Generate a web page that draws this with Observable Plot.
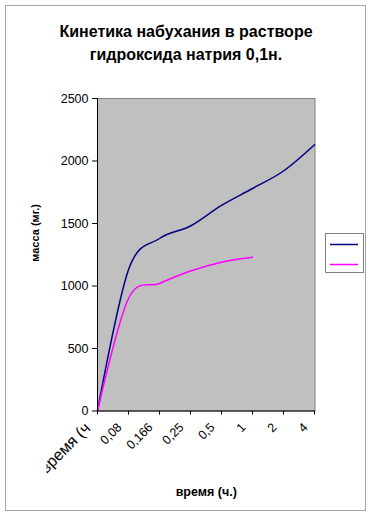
<!DOCTYPE html>
<html>
<head>
<meta charset="utf-8">
<script src="https://cdn.jsdelivr.net/npm/d3@7"></script>
<script src="https://cdn.jsdelivr.net/npm/@observablehq/plot@0.6"></script>
<style>
  html, body { margin: 0; padding: 0; background: #fff; }
  #wrap { position: relative; width: 374px; height: 518px; overflow: hidden; font-family: "Liberation Sans", Arial, sans-serif; }
  #border { position: absolute; left: 5px; top: 5px; width: 361px; height: 506px; border: 1px solid #a6a6a6; box-sizing: border-box; }
  #title { position: absolute; left: 0; top: 20px; width: 372px; text-align: center; font-weight: bold; font-size: 16px; line-height: 23px; color: #000; }
  #chart { position: absolute; left: 0; top: 0; }
  #legend { position: absolute; left: 325px; top: 233px; width: 39px; height: 40px; border: 1px solid #808080; box-sizing: border-box; background: #fff; }
</style>
</head>
<body>
<div id="wrap">
  <div id="border"></div>
  <div id="title">Кинетика набухания в растворе<br>гидроксида натрия 0,1н.</div>
  <div id="chart"></div>
  <div id="legend"></div>
</div>
<script>
const categories = ["время (ч", "0,08", "0,166", "0,25", "0,5", "1", "2", "4"];
const seriesNames = ["Ряд1", "Ряд2"];
const seriesA = [0, 1130, 1380, 1480, 1645, 1780, 1920, 2130];
const seriesB = [0, 900, 1020, 1120, 1190, 1230];
const yTicks = [0, 500, 1000, 1500, 2000, 2500];
const colors = ["#000080", "#ff00ff"];

const data = [];
seriesA.forEach((v, i) => data.push({cat: categories[i], v, s: seriesNames[0]}));
seriesB.forEach((v, i) => data.push({cat: categories[i], v, s: seriesNames[1]}));

const chart = Plot.plot({
  width: 374,
  height: 518,
  marginLeft: 97,
  marginRight: 59.5,
  marginTop: 98,
  marginBottom: 107.5,
  style: {background: "transparent", fontFamily: "'Liberation Sans', Arial, sans-serif", fontSize: "12.5px", color: "#000"},
  x: {type: "point", domain: categories, padding: 0, axis: null},
  y: {domain: [0, 2500], axis: null},
  color: {domain: seriesNames, range: colors},
  marks: [
    Plot.frame({fill: "#c0c0c0", stroke: "#808080"}),
    Plot.line(data, {x: "cat", y: "v", z: "s", stroke: "s", curve: "cardinal", tension: 0, strokeWidth: 1.5}),
    Plot.ruleY([0], {stroke: "#000"}),
    Plot.ruleX([categories[0]], {stroke: "#000"}),
    Plot.axisY({ticks: yTicks, tickSize: 5, tickPadding: 4, tickFormat: d => String(d), label: null, stroke: "#000"}),
    Plot.axisX({ticks: categories, tickSize: 4, tickFormat: () => "", label: null, stroke: "#000"}),
    Plot.text(categories.slice(1), {x: d => d, frameAnchor: "bottom", rotate: -45, textAnchor: "end", dx: -6, dy: 17, fontSize: 12.5}),
    Plot.text(categories.slice(0, 1), {x: d => d, frameAnchor: "bottom", rotate: -45, textAnchor: "end", dx: -6, dy: 18, fontSize: 16, className: "first-cat"}),
    Plot.text(["масса (мг.)"], {frameAnchor: "left", dx: -62, dy: 7, rotate: -90, fontWeight: "bold", fontSize: 11}),
    Plot.text(["время (ч.)"], {frameAnchor: "bottom", dy: 85, fontWeight: "bold", fontSize: 12.5})
  ]
});
document.getElementById("chart").appendChild(chart);

// the first category label is cut off on its left side in the reference
(function () {
  const ns = "http://www.w3.org/2000/svg";
  const svg = chart.tagName.toLowerCase() === "svg" ? chart : chart.querySelector("svg");
  const defs = document.createElementNS(ns, "defs");
  const cp = document.createElementNS(ns, "clipPath");
  cp.setAttribute("id", "cut-first");
  cp.setAttribute("clipPathUnits", "userSpaceOnUse");
  const r = document.createElementNS(ns, "rect");
  r.setAttribute("x", 52); r.setAttribute("y", -100);
  r.setAttribute("width", 400); r.setAttribute("height", 800);
  cp.appendChild(r); defs.appendChild(cp); svg.insertBefore(defs, svg.firstChild);
  const g = svg.querySelector("g.first-cat") || svg.querySelector(".first-cat");
  if (g) g.setAttribute("clip-path", "url(#cut-first)");
})();

// legend (no labels, as in the reference)
const ns = "http://www.w3.org/2000/svg";
const lsvg = document.createElementNS(ns, "svg");
lsvg.setAttribute("width", 37);
lsvg.setAttribute("height", 38);
colors.forEach((c, i) => {
  const l = document.createElementNS(ns, "line");
  l.setAttribute("x1", 4); l.setAttribute("x2", 32);
  l.setAttribute("y1", 10.5 + i * 20); l.setAttribute("y2", 10.5 + i * 20);
  l.setAttribute("stroke", c); l.setAttribute("stroke-width", 1.5);
  lsvg.appendChild(l);
});
document.getElementById("legend").appendChild(lsvg);
</script>
</body>
</html>
